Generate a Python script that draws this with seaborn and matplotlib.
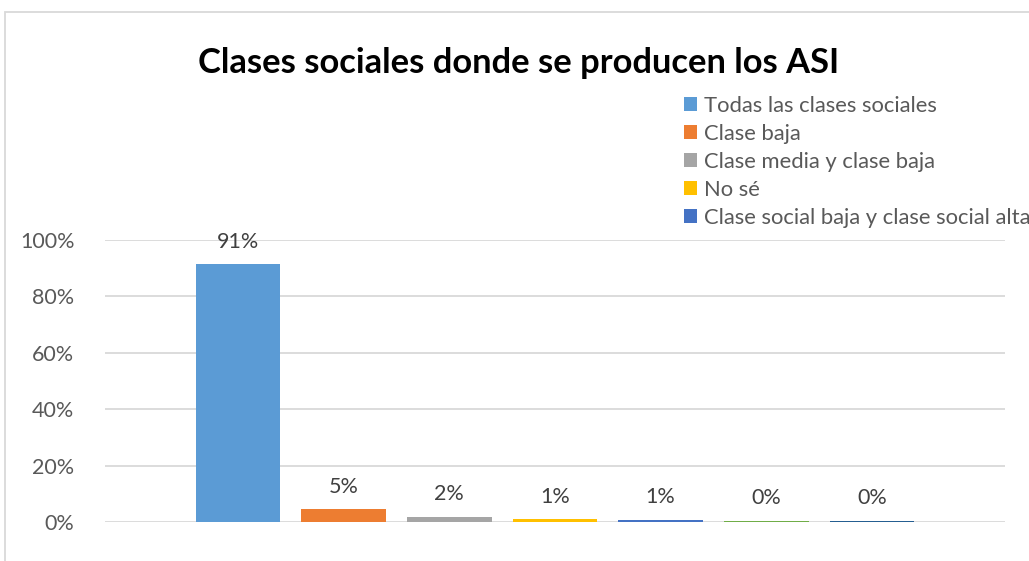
import pandas as pd
import matplotlib.pyplot as plt
import seaborn as sns
from matplotlib.patches import Rectangle
from matplotlib.ticker import PercentFormatter

# Datos del gráfico (las dos últimas categorías no aparecen en la leyenda recortada)
categorias = [
    "Todas las clases sociales",
    "Clase baja",
    "Clase media y clase baja",
    "No sé",
    "Clase social baja y clase social alta",
    "Clase alta",
    "Clase media",
]
valores = [0.914, 0.046, 0.019, 0.009, 0.008, 0.005, 0.005]
etiquetas = ["91%", "5%", "2%", "1%", "1%", "0%", "0%"]
colores = ["#5B9BD5", "#ED7D31", "#A5A5A5", "#FFC000", "#4472C4", "#70AD47", "#255E91"]

df = pd.DataFrame({"categoria": categorias, "valor": valores})

sns.set_style("white")
plt.rcParams['font.family'] = ['Lato', 'DejaVu Sans']

fig = plt.figure(figsize=(10.29, 5.61), dpi=100)
ax = fig.add_axes([105 / 1029, 39 / 561, 900 / 1029, 282 / 561])

sns.barplot(data=df, x="categoria", y="valor", hue="categoria", palette=colores,
            legend=False, width=0.8, saturation=1, linewidth=0, ax=ax)

for cont, lab in zip(ax.containers, etiquetas):
    ax.bar_label(cont, labels=[lab], padding=9, fontsize=15.5, color="#404040")

ax.set_ylim(0, 1.0)
ax.set_xlim(-1.26, 7.26)
ax.set_yticks([0, 0.2, 0.4, 0.6, 0.8, 1.0])
ax.yaxis.set_major_formatter(PercentFormatter(1.0, decimals=0))
ax.set_xticks([])
ax.set_xlabel("")
ax.set_ylabel("")
ax.tick_params(axis="y", labelsize=15.5, labelcolor="#595959", length=0, pad=22)
ax.grid(axis="y", color="#D9D9D9", linewidth=1.3)
ax.set_axisbelow(True)
sns.despine(ax=ax, left=True, bottom=True)

# Leyenda con las cinco primeras series (recortada por el borde derecho)
handles = [c.patches[0] for c in ax.containers[:5]]
fig.legend(handles, categorias[:5], loc="upper left",
           bbox_to_anchor=(684 / 1029, 1 - 96 / 561), frameon=False,
           fontsize=15.8, labelcolor="#595959", handlelength=0.6, handleheight=0.6,
           handletextpad=0.3, labelspacing=0.36, borderpad=0, borderaxespad=0)

fig.text(519 / 1029, 1 - 63 / 561, "Clases sociales donde se producen los ASI",
         ha="center", va="center", fontsize=24.8, fontweight="bold", color="black")

# Marco del área del gráfico
fig.patches.append(Rectangle((5 / 1029, -0.1), 1.2, 1 - 12 / 561 + 0.1,
                             transform=fig.transFigure, fill=False,
                             edgecolor="#D9D9D9", linewidth=1.3))

fig.savefig("out.png", dpi=100)
